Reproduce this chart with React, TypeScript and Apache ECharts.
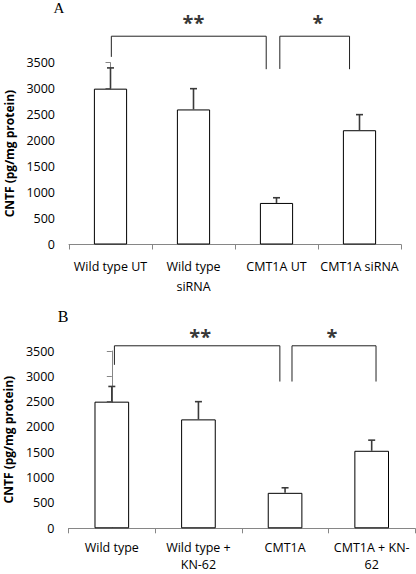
import React, { useEffect, useRef } from "react";
import * as echarts from "echarts";

// ---- data ----
const categoriesA = ["Wild type UT", "Wild type\nsiRNA", "CMT1A UT", "CMT1A siRNA"];
const valuesA = [3000, 2600, 800, 2200];
const errorsA = [400, 400, 100, 300];

const categoriesB = ["Wild type", "Wild type +\nKN-62", "CMT1A", "CMT1A + KN-\n62"];
const valuesB = [2500, 2150, 700, 1530];
const errorsB = [300, 350, 100, 210];

const yMin = 0;
const yMax = 3500;
const yInterval = 500;
const yTitle = "CNTF (pg/mg protein)";
const panelLabels = ["A", "B"];

// significance brackets: [category position, value]
const bracketA1 = [[0.01, 3612], [0.01, 4010], [1.876, 4010], [1.876, 3375]];
const bracketA2 = [[2.04, 3380], [2.04, 4010], [2.88, 4010], [2.88, 3375]];
const bracketB1 = [[0.03, 3227], [0.03, 3603], [1.94, 3603], [1.94, 2897]];
const bracketB2 = [[2.08, 2897], [2.08, 3603], [3.05, 3603], [3.05, 2897]];
const starsA = [
  { pos: 1.0, value: 4280, text: "**" },
  { pos: 2.5, value: 4280, text: "*" },
];
const starsB = [
  { pos: 1.02, value: 3790, text: "**" },
  { pos: 2.54, value: 3790, text: "*" },
];

const FONT = "'Open Sans', sans-serif";
const AXIS_GRAY = "#868686";

function errorRender(params: any, api: any) {
  const base = api.coord([api.value(0), api.value(1)]);
  const top = api.coord([api.value(0), api.value(2)]);
  const st = { stroke: "#3a3a3a", lineWidth: 1.6 };
  return {
    type: "group",
    children: [
      { type: "line", shape: { x1: base[0], y1: base[1], x2: top[0], y2: top[1] }, style: st },
      { type: "line", shape: { x1: top[0] - 3.5, y1: top[1], x2: top[0] + 3.5, y2: top[1] }, style: st },
    ],
  };
}

function makeCatAxis(cats: string[], gridIndex: number, lineHeight: number, margin: number) {
  return {
    type: "category",
    gridIndex,
    data: cats,
    boundaryGap: true,
    axisLine: { show: true, lineStyle: { color: AXIS_GRAY, width: 1 } },
    axisTick: { show: true, length: 5, lineStyle: { color: AXIS_GRAY } },
    axisLabel: {
      interval: 0,
      color: "#000",
      fontFamily: FONT,
      fontSize: 12.5,
      lineHeight,
      margin,
    },
  };
}

function makeHiddenX(gridIndex: number) {
  return { type: "value", gridIndex, min: -0.5, max: 3.5, show: false };
}

function makeY(gridIndex: number) {
  return {
    type: "value",
    gridIndex,
    min: yMin,
    max: yMax,
    interval: yInterval,
    name: yTitle,
    nameLocation: "middle",
    nameGap: 54,
    nameTextStyle: { color: "#000", fontFamily: FONT, fontWeight: "bold", fontSize: 12 },
    splitLine: { show: false },
    axisLine: { show: true, lineStyle: { color: AXIS_GRAY, width: 1 } },
    axisTick: { show: true, length: 5, lineStyle: { color: AXIS_GRAY } },
    axisLabel: {
      color: "#000",
      fontFamily: FONT,
      fontSize: 12.5,
      margin: 14,
      formatter: (v: number) => String(v),
    },
  };
}

function panelSeries(
  values: number[],
  errors: number[],
  brackets: number[][][],
  stars: { pos: number; value: number; text: string }[],
  catX: number,
  hidX: number,
  yIdx: number
) {
  const out: any[] = [
    {
      type: "bar",
      xAxisIndex: catX,
      yAxisIndex: yIdx,
      data: values,
      barWidth: "40%",
      itemStyle: { color: "#ffffff", borderColor: "#000", borderWidth: 1 },
      silent: true,
    },
    {
      type: "custom",
      xAxisIndex: catX,
      yAxisIndex: yIdx,
      renderItem: errorRender,
      data: values.map((v, i) => [i, v, v + errors[i]]),
      silent: true,
      z: 3,
    },
  ];
  brackets.forEach((b) => {
    out.push({
      type: "line",
      xAxisIndex: hidX,
      yAxisIndex: yIdx,
      data: b,
      symbol: "none",
      clip: false,
      lineStyle: { color: "#222", width: 1 },
      silent: true,
    });
  });
  out.push({
    type: "scatter",
    xAxisIndex: hidX,
    yAxisIndex: yIdx,
    clip: false,
    symbolSize: 1,
    itemStyle: { color: "rgba(0,0,0,0)" },
    silent: true,
    data: stars.map((s) => ({ value: [s.pos, s.value], name: s.text })),
    label: {
      show: true,
      position: "inside",
      formatter: (p: any) => p.name,
      color: "#000",
      fontFamily: FONT,
      fontWeight: "bold",
      fontSize: 20,
    },
  });
  return out;
}

export default function App() {
  const ref = useRef<HTMLDivElement>(null);
  useEffect(() => {
    if (!ref.current) return;
    const chart = echarts.init(ref.current, null, { renderer: "svg" });
    chart.setOption({
      animation: false,
      backgroundColor: "#fff",
      grid: [
        { left: 69, top: 62.7, width: 332, height: 181.8, containLabel: false, outerBoundsMode: "none" },
        { left: 68.5, top: 351, width: 346.5, height: 177.3, containLabel: false, outerBoundsMode: "none" },
      ],
      xAxis: [
        makeCatAxis(categoriesA, 0, 20, 12),
        makeHiddenX(0),
        makeCatAxis(categoriesB, 1, 16.5, 11),
        makeHiddenX(1),
      ],
      yAxis: [makeY(0), makeY(1)],
      series: [
        ...panelSeries(valuesA, errorsA, [bracketA1, bracketA2], starsA, 0, 1, 0),
        ...panelSeries(valuesB, errorsB, [bracketB1, bracketB2], starsB, 2, 3, 1),
      ],
      graphic: [
        {
          type: "text",
          x: 59,
          y: 7.5,
          style: {
            text: panelLabels[0],
            font: "15px 'Liberation Serif', serif",
            fill: "#000",
            align: "center",
            verticalAlign: "middle",
          },
        },
        {
          type: "text",
          x: 63,
          y: 316.5,
          style: {
            text: panelLabels[1],
            font: "16px 'Liberation Serif', serif",
            fill: "#000",
            align: "center",
            verticalAlign: "middle",
          },
        },
      ],
    });
    return () => chart.dispose();
  }, []);
  return (
    <div
      ref={ref}
      style={{ position: "absolute", left: 0, top: 0, width: 416, height: 574, background: "#fff" }}
    />
  );
}
